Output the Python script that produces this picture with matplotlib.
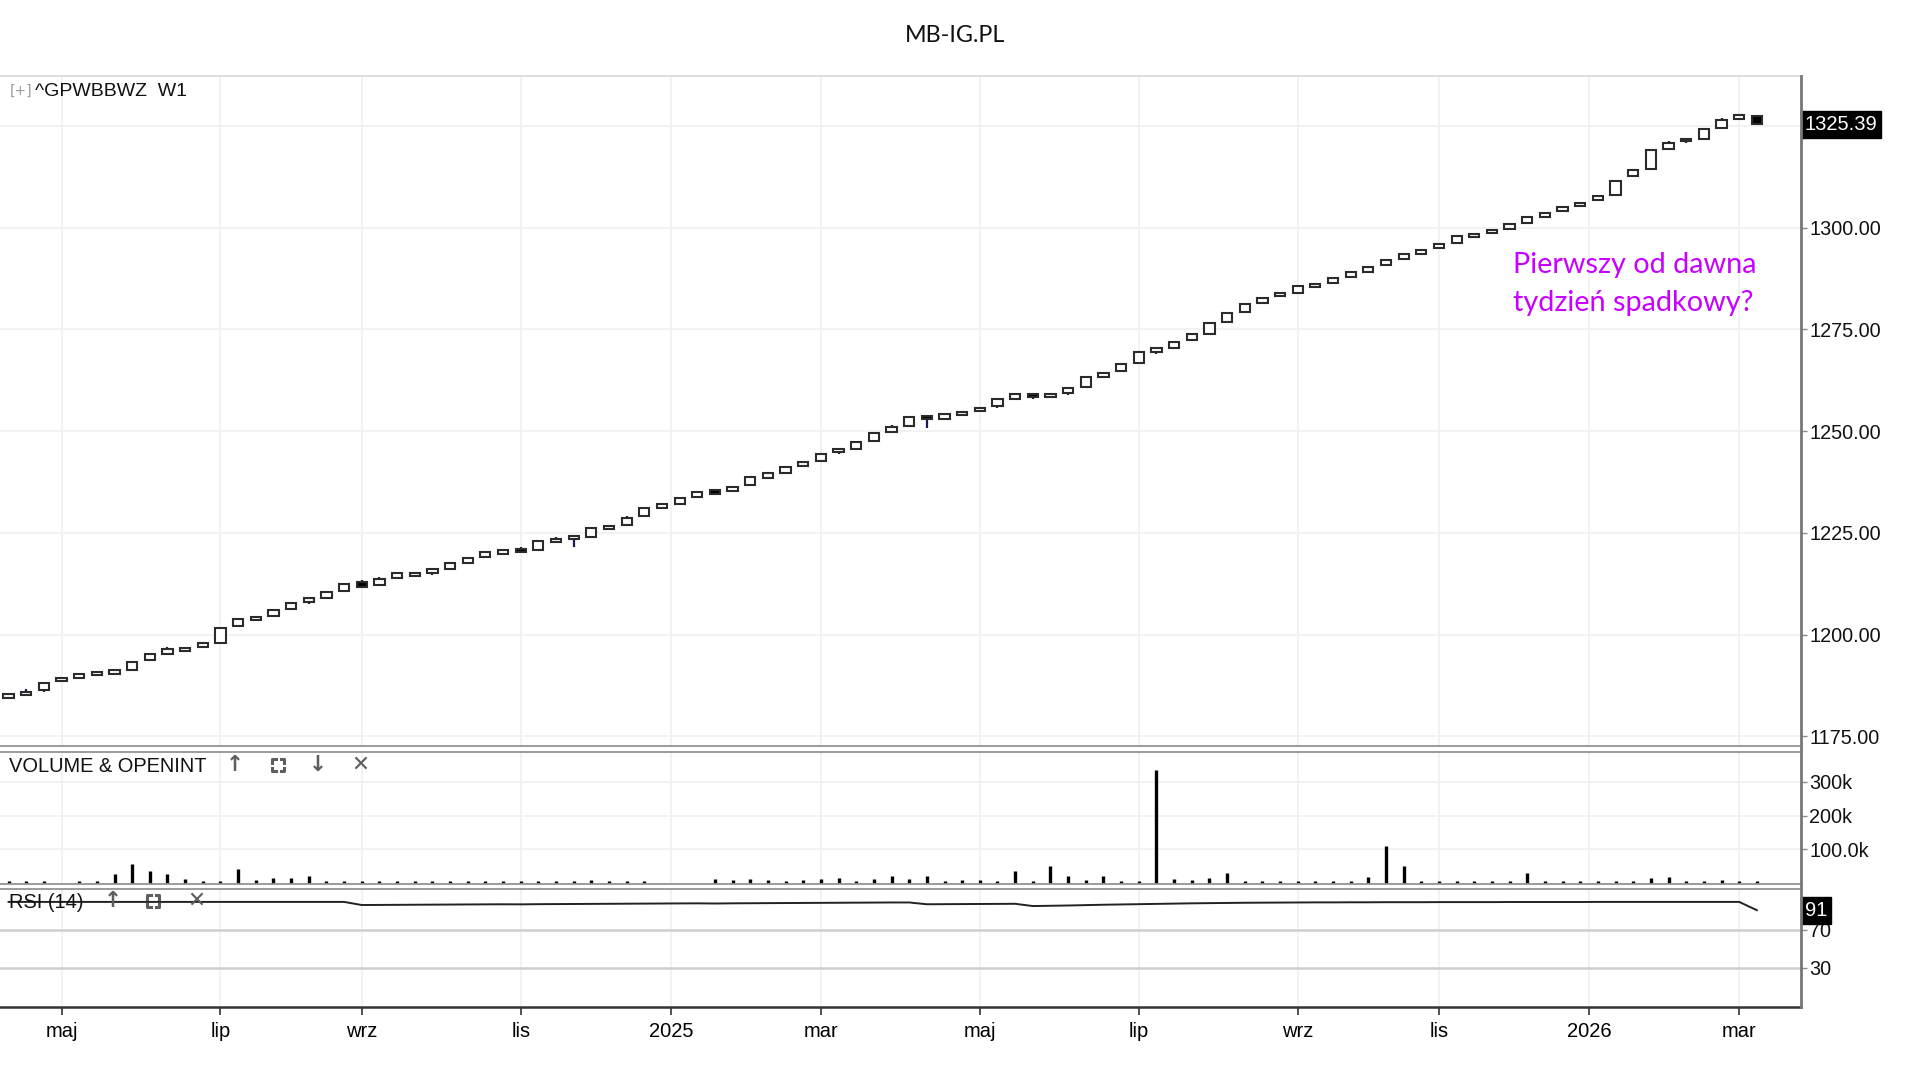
import numpy as np
import pandas as pd
import matplotlib
matplotlib.use("Agg")
import matplotlib.pyplot as plt
from matplotlib.lines import Line2D
from matplotlib.transforms import blended_transform_factory

# weekly bars (Monday dated)
weeks = pd.date_range("2024-04-08", periods=100, freq="W-MON")

opens = [1184.5, 1185.1, 1186.3, 1188.5, 1189.4, 1190.0, 1190.4, 1191.2, 1193.7, 1195.3,
         1195.9, 1196.9, 1198.0, 1202.1, 1203.5, 1204.5, 1206.3, 1207.9, 1209.1, 1210.7,
         1212.9, 1212.1, 1213.8, 1214.4, 1215.2, 1216.2, 1217.5, 1219.0, 1219.8, 1221.0,
         1220.7, 1222.7, 1223.4, 1223.9, 1226.0, 1226.9, 1229.1, 1231.2, 1232.1, 1233.8,
         1235.5, 1235.3, 1236.8, 1238.6, 1239.8, 1241.5, 1242.7, 1244.8, 1245.7, 1247.6,
         1249.8, 1251.3, 1253.6, 1253.1, 1253.9, 1255.0, 1256.3, 1258.0, 1259.1, 1258.5,
         1259.3, 1260.9, 1263.4, 1264.9, 1266.8, 1269.5, 1270.4, 1272.3, 1274.0, 1276.8,
         1279.4, 1281.5, 1283.1, 1283.9, 1285.5, 1286.4, 1288.0, 1289.2, 1290.8, 1292.2,
         1293.6, 1295.0, 1296.2, 1297.8, 1298.7, 1299.6, 1301.1, 1302.7, 1304.0, 1305.4,
         1306.8, 1308.0, 1312.6, 1314.4, 1319.3, 1321.2, 1321.8, 1324.5, 1326.8, 1327.5]
closes = [1185.5, 1185.9, 1188.1, 1189.3, 1190.2, 1190.8, 1191.2, 1193.3, 1195.1, 1196.4,
          1196.8, 1197.9, 1201.7, 1203.7, 1204.3, 1206.1, 1207.8, 1208.9, 1210.4, 1212.5,
          1211.6, 1213.6, 1215.1, 1215.2, 1216.1, 1217.5, 1218.8, 1220.2, 1220.7, 1220.2,
          1223.0, 1223.5, 1224.3, 1226.3, 1226.8, 1228.7, 1231.2, 1232.1, 1233.6, 1235.1,
          1234.6, 1236.3, 1238.7, 1239.8, 1241.2, 1242.5, 1244.4, 1245.5, 1247.4, 1249.6,
          1251.1, 1253.5, 1253.0, 1254.2, 1254.7, 1255.8, 1257.8, 1259.1, 1258.4, 1259.2,
          1260.7, 1263.2, 1264.4, 1266.5, 1269.5, 1270.5, 1271.9, 1273.9, 1276.6, 1279.1,
          1281.3, 1282.8, 1284.0, 1285.8, 1286.2, 1287.7, 1289.2, 1290.4, 1292.1, 1293.6,
          1294.5, 1296.1, 1297.9, 1298.5, 1299.4, 1300.9, 1302.6, 1303.7, 1305.0, 1306.2,
          1307.7, 1311.4, 1314.2, 1319.1, 1320.9, 1321.8, 1324.3, 1326.5, 1327.7, 1325.39]
# visible wick ends (bar index -> price)
wick_hi = {1: 1186.6, 5: 1191.1, 6: 1191.4, 8: 1195.3, 9: 1196.9, 14: 1204.6, 20: 1213.5,
           21: 1214.2, 28: 1221.1, 29: 1221.6, 31: 1224.0, 35: 1229.1, 41: 1236.6, 50: 1251.5,
           54: 1255.0, 63: 1266.8, 80: 1294.7, 94: 1321.4, 95: 1322.1, 97: 1326.9, 98: 1328.0}
wick_lo = {2: 1185.9, 17: 1207.6, 24: 1214.7, 32: 1221.4, 42: 1236.5, 44: 1239.6, 47: 1244.5,
           52: 1250.7, 56: 1255.8, 58: 1257.8, 60: 1259.0, 65: 1269.0, 71: 1281.3, 81: 1294.7,
           88: 1303.8, 94: 1319.0, 95: 1320.9}

volume_k = [5, 5, 5, 0, 5, 5, 28, 55, 35, 28,
            13, 5, 5, 42, 8, 16, 16, 21, 5, 5,
            5, 5, 5, 5, 5, 5, 5, 5, 5, 5,
            5, 5, 5, 9, 5, 5, 5, 0, 0, 0,
            13, 9, 13, 9, 7, 9, 13, 16, 5, 13,
            20, 13, 20, 5, 9, 9, 5, 36, 5, 50,
            20, 10, 20, 5, 5, 336, 12, 8, 15, 29,
            5, 5, 5, 7, 5, 5, 7, 19, 111, 50,
            5, 7, 5, 5, 5, 7, 29, 7, 7, 5,
            5, 5, 5, 15, 19, 7, 7, 10, 7, 7]

rsi = [99.8, 99.8, 99.8, 99.8, 99.8, 99.8, 99.8, 99.8, 99.8, 99.8,
       99.8, 99.8, 99.8, 99.8, 99.8, 99.8, 99.8, 99.8, 99.8, 99.8,
       96.5, 96.6, 96.7, 96.8, 96.9, 97.0, 97.1, 97.2, 97.3, 97.2,
       97.4, 97.5, 97.6, 97.7, 97.8, 97.9, 98.0, 98.1, 98.2, 98.3,
       98.1, 98.3, 98.4, 98.5, 98.6, 98.7, 98.8, 98.9, 99.0, 99.1,
       99.2, 99.2, 97.3, 97.4, 97.5, 97.6, 97.7, 97.8, 95.4, 95.7,
       96.0, 96.4, 96.8, 97.1, 97.4, 97.7, 98.0, 98.3, 98.5, 98.7,
       98.9, 99.0, 99.1, 99.2, 99.3, 99.3, 99.4, 99.4, 99.5, 99.5,
       99.5, 99.6, 99.6, 99.6, 99.6, 99.7, 99.7, 99.7, 99.7, 99.7,
       99.8, 99.8, 99.8, 99.8, 99.8, 99.8, 99.8, 99.8, 99.8, 91.0]

month_labels = [("2024-05-01", "maj"), ("2024-07-01", "lip"), ("2024-09-01", "wrz"),
                ("2024-11-01", "lis"), ("2025-01-01", "2025"), ("2025-03-01", "mar"),
                ("2025-05-01", "maj"), ("2025-07-01", "lip"), ("2025-09-01", "wrz"),
                ("2025-11-01", "lis"), ("2026-01-01", "2026"), ("2026-03-01", "mar")]
price_ticks = [1175, 1200, 1225, 1250, 1275, 1300, 1325]
vol_ticks = [100000, 200000, 300000]
vol_tick_labels = ["100.0k", "200k", "300k"]
rsi_ticks = [30, 70]

W, H = 1920, 1080
RIGHT = 1801
AXIS_FONT = "Liberation Sans"
GRID = "#f0f0f0"
EDGE = "#8a8a8a"

# tick positions: bar of the week containing the 1st of the month
tick_pos = []
for d, lab in month_labels:
    d = pd.Timestamp(d)
    idx = int(np.where((weeks <= d) & (weeks + pd.Timedelta(days=7) > d))[0][0])
    if d.month == 1:
        idx -= 0.5
    tick_pos.append(idx)
tick_names = [lab for _, lab in month_labels]

fig = plt.figure(figsize=(W / 100, H / 100), dpi=100)


def rect(top, bottom):
    return [0, 1 - bottom / H, RIGHT / W, (bottom - top) / H]


ax = fig.add_axes(rect(76, 746))
axv = fig.add_axes(rect(752, 884), sharex=ax)
axr = fig.add_axes(rect(889, 1006.6), sharex=ax)

x = np.arange(len(opens))
o = np.array(opens)
c = np.array(closes)
hi = np.array([max(opens[i], closes[i], wick_hi.get(i, 0)) for i in x])
lo = np.array([min(opens[i], closes[i], wick_lo.get(i, 1e9)) for i in x])

# candles
ax.vlines(x, lo, hi, color="#1a1a5a", lw=1.6, zorder=2)
body_lo = np.minimum(o, c)
body_h = np.maximum(np.abs(c - o), 0.35)
face = ["white" if cc >= oo else "black" for oo, cc in zip(o, c)]
ax.bar(x, body_h, bottom=body_lo, width=0.58, color=face, edgecolor="#2b2b2b",
       linewidth=1.5, zorder=3)

# volume
axv.vlines(x, 0, np.array(volume_k) * 1000, color="black", lw=2.4)

# rsi
axr.plot(x, rsi, color="#222222", lw=1.4)

for a in (ax, axv, axr):
    a.set_xlim(-0.485, 101.5)
    a.set_xticks(tick_pos)
    a.grid(axis="x", color=GRID, lw=1.2)
    a.set_axisbelow(True)
    a.yaxis.tick_right()
    a.spines["left"].set_visible(False)
    a.spines["right"].set_visible(False)
    for s in ("top", "bottom"):
        a.spines[s].set_color(EDGE)
        a.spines[s].set_linewidth(1.2)
    a.tick_params(axis="y", length=4, width=1, color=EDGE, labelsize=14.3, pad=2,
                  labelcolor="#111111")
    for t in a.get_yticklabels():
        t.set_fontfamily(AXIS_FONT)

ax.spines["top"].set_color("#d8d8d8")
ax.tick_params(axis="x", length=0, labelbottom=False)
axv.tick_params(axis="x", length=0, labelbottom=False)

ax.set_ylim(1172.6, 1337.3)
ax.set_yticks(price_ticks)
ax.set_yticklabels([f"{v:.2f}" if v != 1325 else "" for v in price_ticks],
                   fontfamily=AXIS_FONT)
ax.grid(axis="y", color=GRID, lw=1.2)

axv.set_ylim(-3000, 389000)
axv.set_yticks(vol_ticks)
axv.set_yticklabels(vol_tick_labels, fontfamily=AXIS_FONT)
axv.grid(axis="y", color=GRID, lw=1.2)

axr.set_ylim(-11.3, 113.5)
axr.set_yticks(rsi_ticks)
axr.set_yticklabels([str(v) for v in rsi_ticks], fontfamily=AXIS_FONT)
axr.grid(axis="y", color="#cfcfcf", lw=1.8)
axr.spines["bottom"].set_color("#333333")
axr.spines["bottom"].set_linewidth(1.8)
axr.set_xticklabels(tick_names, fontfamily=AXIS_FONT, fontsize=14.5)
axr.tick_params(axis="x", length=6, width=1.2, color="#333333", pad=5)

# right price axis line through all panels
fig.add_artist(Line2D([RIGHT / W, RIGHT / W], [1 - 76 / H, 1 - 1006.6 / H],
                      color="#777777", lw=2, transform=fig.transFigure))

# last value boxes
tr = blended_transform_factory(ax.transAxes, ax.transData)
ax.text(1.002, closes[-1], f"{closes[-1]:.2f}", transform=tr, ha="left", va="center",
        color="white", fontsize=14.5, fontfamily=AXIS_FONT,
        bbox=dict(boxstyle="square,pad=0.2", fc="black", ec="black"))
trr = blended_transform_factory(axr.transAxes, axr.transData)
axr.text(1.002, rsi[-1], f"{rsi[-1]:.0f}", transform=trr, ha="left", va="center",
         color="white", fontsize=14.5, fontfamily=AXIS_FONT,
         bbox=dict(boxstyle="square,pad=0.2", fc="black", ec="black"))

# labels and titles
fig.text(955 / W, 1 - 35 / H, "MB-IG.PL", ha="center", va="center", fontsize=16.8,
         fontfamily="Lato", color="#111111")
fig.text(10 / W, 1 - 91 / H, "[+]", ha="left", va="center", fontsize=10,
         fontfamily="DejaVu Sans", color="#9a9a9a")
fig.text(35 / W, 1 - 91 / H, "^GPWBBWZ  W1", ha="left", va="center", fontsize=14,
         fontfamily=AXIS_FONT, color="#111111")
fig.text(9 / W, 1 - 766 / H, "VOLUME & OPENINT", ha="left", va="center", fontsize=14.4,
         fontfamily=AXIS_FONT, color="#111111")
fig.text(9 / W, 1 - 902 / H, "RSI (14)", ha="left", va="center", fontsize=14.4,
         fontfamily=AXIS_FONT, color="#111111")

ICON = "#5e5e5e"


def corners(cx, cy, s=6, l=3.5):
    for sx in (-1, 1):
        for sy in (-1, 1):
            x0, y0 = cx + sx * s, cy + sy * s
            xs = [x0 - sx * l, x0, x0]
            ys = [y0, y0, y0 - sy * l]
            fig.add_artist(Line2D([v / W for v in xs], [1 - v / H for v in ys],
                                  color=ICON, lw=2.2, transform=fig.transFigure))


def icon(px, py, s):
    fig.text(px / W, 1 - py / H, s, ha="center", va="center", fontsize=15.5,
             fontfamily="DejaVu Sans", fontweight="bold", color=ICON)


icon(235, 765, "↑")
corners(278, 765)
icon(318, 765, "↓")
icon(360, 765, "✕")
icon(113, 901, "↑")
corners(153, 901)
icon(196, 901, "✕")

fig.text(1513 / W, 1 - 284 / H, "Pierwszy od dawna\ntydzień spadkowy?", ha="left",
         va="center", fontsize=20.8, fontfamily="Lato", color="#c800ff", linespacing=1.6)

fig.savefig("out.png", dpi=100)
